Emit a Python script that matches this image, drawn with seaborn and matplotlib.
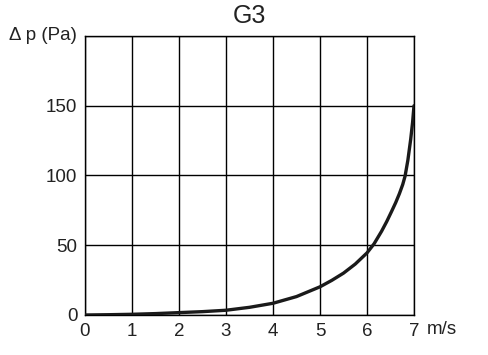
import matplotlib
matplotlib.use("Agg")
import matplotlib.pyplot as plt
import seaborn as sns
import pandas as pd

# Data
velocity = [0.0, 0.5, 1.0, 1.5, 2.0, 2.5, 3.0, 3.5, 4.0, 4.5, 5.0, 5.25, 5.5, 5.75,
            6.0, 6.15, 6.31, 6.42, 6.52, 6.61, 6.69, 6.76, 6.81, 6.87, 6.93, 6.97, 7.0]
pressure = [0.0, 0.2, 0.5, 1.0, 1.7, 2.4, 3.4, 5.5, 8.4, 13.2, 20.2, 24.8, 30.0, 36.5,
            44.5, 51.0, 60.0, 67.0, 74.0, 80.5, 87.0, 93.5, 99.5, 111.0, 126.0, 138.0, 150.0]
x_ticks = [0, 1, 2, 3, 4, 5, 6, 7]
y_ticks = [0, 50, 100, 150, 200]
y_tick_labels = ["0", "50", "100", "150", ""]
title = "G3"
y_label = "\u0394 p (Pa)"
x_label = "m/s"

df = pd.DataFrame({"v": velocity, "dp": pressure})

sns.set_style("white")
plt.rcParams["font.family"] = ["Liberation Sans", "DejaVu Sans"]

fig = plt.figure(figsize=(4.89, 3.55), dpi=100)
ax = fig.add_axes([0.1738, 0.1127, 0.6728, 0.7859])

sns.lineplot(data=df, x="v", y="dp", ax=ax, color="#1a1a1a", linewidth=2.4, zorder=3)
ax.lines[-1].set_solid_joinstyle("round")

ax.set_xlim(0, 7)
ax.set_ylim(0, 200)
ax.set_xticks(x_ticks)
ax.set_xticklabels([str(t) for t in x_ticks])
ax.set_yticks(y_ticks)
ax.set_yticklabels(y_tick_labels)
ax.grid(True, color="black", linewidth=1.0)
ax.tick_params(axis="both", length=0, labelsize=13.5, colors="#222222", pad=5.5)
for s in ax.spines.values():
    s.set_visible(True)
    s.set_color("black")
    s.set_linewidth(1.0)
ax.set_xlabel("")
ax.set_ylabel("")

ax.text(0.5, 1 + 20 / 279, title, transform=ax.transAxes, ha="center", va="center",
        fontsize=18, color="#222222")
ax.text(-8 / 329, 1.0, y_label, transform=ax.transAxes, ha="right", va="center",
        fontsize=13.5, color="#222222")
ax.text(1 + 13 / 329, -15 / 279, x_label, transform=ax.transAxes, ha="left", va="center",
        fontsize=13.5, color="#222222")

fig.savefig("out.png", dpi=100)
